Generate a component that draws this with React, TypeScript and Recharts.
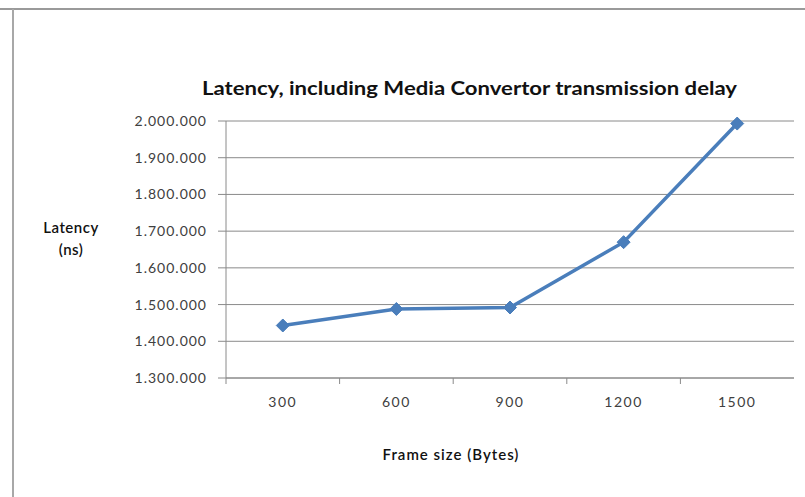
import React from 'react';
import {
  LineChart,
  Line,
  XAxis,
  YAxis,
  CartesianGrid,
} from 'recharts';

const frameSizes = ['300', '600', '900', '1200', '1500'];
const latencyNs = [1443000, 1488000, 1492000, 1670000, 1993000];
const yTicks = [1300000, 1400000, 1500000, 1600000, 1700000, 1800000, 1900000, 2000000];

const chartTitle = 'Latency, including Media Convertor transmission delay';
const xTitle = 'Frame size (Bytes)';
const yTitle = ['Latency', '(ns)'];

const FONT = 'Lato, "Open Sans", sans-serif';
const LINE_BLUE = '#4a7ebb';
const GRID_GREY = '#8a8a8a';

const W = 805;
const H = 497;
const MARGIN = { top: 121, right: 11, bottom: 101, left: 136 };
const Y_AXIS_W = 90;
const X_AXIS_H = 18;
const AXIS_Y = H - MARGIN.bottom - X_AXIS_H;
// half of one category band, so points sit in the middle of their slot
const HALF_BAND = (W - MARGIN.left - Y_AXIS_W - MARGIN.right) / frameSizes.length / 2;

const data = frameSizes.map((size, i) => ({ size, latency: latencyNs[i] }));

// 1300000 -> "1.300.000"
const dotted = (v: number) => String(v).replace(/\B(?=(\d{3})+(?!\d))/g, '.');

// Category label in the middle of the band, tick mark on the band's left edge
const BandTick = (props: any) => {
  const { x, payload } = props;
  return (
    <g>
      <line x1={x - HALF_BAND} x2={x - HALF_BAND} y1={AXIS_Y} y2={AXIS_Y + 6} stroke={GRID_GREY} strokeWidth={1} />
      <text
        x={x}
        y={AXIS_Y + 29}
        textAnchor="middle"
        fontSize={14}
        letterSpacing={1.5}
        fill="#404040"
        fontFamily={FONT}
      >
        {payload.value}
      </text>
    </g>
  );
};

const Diamond = (props: any) => {
  const { cx, cy } = props;
  if (cx == null || cy == null) return null;
  const r = 6.5;
  return (
    <path
      d={`M${cx},${cy - r} L${cx + r},${cy} L${cx},${cy + r} L${cx - r},${cy} Z`}
      fill={LINE_BLUE}
      stroke={LINE_BLUE}
    />
  );
};

export default function App() {
  return (
    <div style={{ position: 'absolute', left: 0, top: 0, width: W, height: H, background: '#fff' }}>
      <LineChart width={W} height={H} data={data} margin={MARGIN}>
        <CartesianGrid vertical={false} stroke={GRID_GREY} strokeWidth={1} />
        <XAxis
          dataKey="size"
          height={X_AXIS_H}
          padding={{ left: HALF_BAND, right: HALF_BAND }}
          axisLine={{ stroke: GRID_GREY }}
          tickLine={false}
          tick={<BandTick />}
          interval={0}
        />
        <YAxis
          width={Y_AXIS_W}
          domain={[1300000, 2000000]}
          ticks={yTicks}
          interval={0}
          tickFormatter={dotted}
          tickSize={8}
          tickMargin={11}
          axisLine={{ stroke: GRID_GREY }}
          tickLine={{ stroke: GRID_GREY }}
          tick={{ fontSize: 14, fill: '#404040', fontFamily: FONT, letterSpacing: 1 }}
        />
        <Line
          type="linear"
          dataKey="latency"
          stroke={LINE_BLUE}
          strokeWidth={3.5}
          dot={<Diamond />}
          activeDot={false}
          isAnimationActive={false}
        />
      </LineChart>
      <svg width={W} height={H} style={{ position: 'absolute', left: 0, top: 0, pointerEvents: 'none' }}>
        <line x1={0} x2={W} y1={9} y2={9} stroke="#9a9a9a" strokeWidth={2} />
        <line x1={13} x2={13} y1={9} y2={H} stroke="#a8a8a8" strokeWidth={2} />
        <text
          x={202}
          y={95}
          fontSize={18}
          fontWeight={700}
          fill="#111"
          fontFamily={FONT}
          textLength={535}
          lengthAdjust="spacingAndGlyphs"
        >
          {chartTitle}
        </text>
        <text x={71} y={233} textAnchor="middle" fontSize={15} fontWeight={600} letterSpacing={0.5} fill="#111" fontFamily={FONT}>
          {yTitle[0]}
        </text>
        <text x={71} y={255} textAnchor="middle" fontSize={15} fontWeight={600} letterSpacing={0.5} fill="#111" fontFamily={FONT}>
          {yTitle[1]}
        </text>
        <text x={451} y={460} textAnchor="middle" fontSize={15} fontWeight={600} letterSpacing={1} fill="#111" fontFamily={FONT}>
          {xTitle}
        </text>
      </svg>
    </div>
  );
}
